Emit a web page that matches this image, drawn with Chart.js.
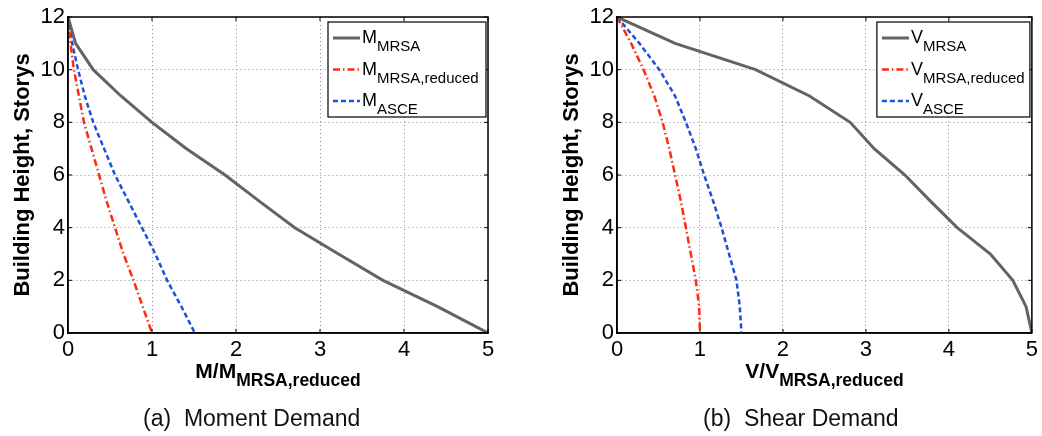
<!DOCTYPE html>
<html>
<head>
<meta charset="utf-8">
<script src="https://cdn.jsdelivr.net/npm/chart.js@4.4.0/dist/chart.umd.min.js"></script>
<style>
  body { margin: 0; background: #fff; }
  #wrap { position: relative; width: 1042px; height: 436px; }
  .box { position: absolute; top: 0; width: 521px; height: 436px; }
  .caption { position: absolute; top: 405px; font: 23px "Liberation Sans", Arial, sans-serif; color: #111; white-space: pre; }
</style>
</head>
<body>
<div id="wrap">
  <div class="box" style="left:0"><canvas id="moment"></canvas></div>
  <div class="box" style="left:521px"><canvas id="shear"></canvas></div>
  <div class="caption" style="left:143px">(a)  Moment Demand</div>
  <div class="caption" style="left:703px">(b)  Shear Demand</div>
</div>
<script>
// storys, top to bottom
var storys = [12, 11, 10, 9, 8, 7, 6, 5, 4, 3, 2, 1, 0];

// moment demand, normalised by M_MRSA,reduced
var mMrsa = [0, 0.09, 0.3, 0.63, 1.0, 1.41, 1.87, 2.28, 2.7, 3.22, 3.75, 4.4, 5.0];
var mMrsaReduced = [0, 0.03, 0.07, 0.13, 0.19, 0.28, 0.37, 0.46, 0.56, 0.66, 0.78, 0.89, 1.0];
var mAsce = [0, 0.05, 0.12, 0.2, 0.3, 0.43, 0.56, 0.72, 0.88, 1.04, 1.18, 1.35, 1.51];

// shear demand, normalised by V_MRSA,reduced
var vMrsa = [0, 0.7, 1.67, 2.32, 2.81, 3.1, 3.47, 3.78, 4.1, 4.5, 4.77, 4.93, 5.0];
var vMrsaReduced = [0, 0.17, 0.32, 0.45, 0.55, 0.63, 0.7, 0.77, 0.83, 0.89, 0.95, 0.99, 1.0];
var vAsce = [0, 0.27, 0.51, 0.7, 0.83, 0.95, 1.05, 1.16, 1.26, 1.35, 1.44, 1.48, 1.5];

var xTicks = [0, 1, 2, 3, 4, 5];
var yTicks = [0, 2, 4, 6, 8, 10, 12];

var FONT = '"Liberation Sans", Arial, Helvetica, sans-serif';
var GREY = '#636363', RED = '#ff2a10', BLUE = '#1e4fdc';

function pts(xs) {
    return xs.map(function (v, i) { return { x: v, y: storys[i] }; });
}

// text with a subscript, drawn on the canvas
function subText(ctx, x, y, main, sub, size, subSize, drop, bold, align) {
    var w = bold ? 'bold ' : '';
    ctx.font = w + size + 'px ' + FONT;
    var w1 = ctx.measureText(main).width;
    ctx.font = w + subSize + 'px ' + FONT;
    var w2 = ctx.measureText(sub).width;
    var start = align === 'center' ? x - (w1 + w2) / 2 : x;
    ctx.textAlign = 'left';
    ctx.textBaseline = 'alphabetic';
    ctx.fillStyle = '#000';
    ctx.font = w + size + 'px ' + FONT;
    ctx.fillText(main, start, y);
    ctx.font = w + subSize + 'px ' + FONT;
    ctx.fillText(sub, start + w1, y + drop);
}

var decor = {
    id: 'decor',
    afterDraw: function (chart) {
        var o = chart.options.plugins.decor;
        var ctx = chart.ctx, a = chart.chartArea;
        var sx = chart.scales.x, sy = chart.scales.y;
        ctx.save();
        // box round the axes, with inward tick marks
        ctx.strokeStyle = '#000';
        ctx.lineWidth = 1.5;
        ctx.strokeRect(a.left, a.top, a.right - a.left, a.bottom - a.top);
        ctx.lineWidth = 1;
        ctx.beginPath();
        xTicks.forEach(function (v) {
            var px = sx.getPixelForValue(v);
            ctx.moveTo(px, a.bottom); ctx.lineTo(px, a.bottom - 4);
            ctx.moveTo(px, a.top); ctx.lineTo(px, a.top + 4);
        });
        yTicks.forEach(function (v) {
            var py = sy.getPixelForValue(v);
            ctx.moveTo(a.left, py); ctx.lineTo(a.left + 4, py);
            ctx.moveTo(a.right, py); ctx.lineTo(a.right - 4, py);
        });
        ctx.stroke();

        // y axis title
        ctx.translate(a.left - 45, (a.top + a.bottom) / 2);
        ctx.rotate(-Math.PI / 2);
        ctx.font = 'bold 22px ' + FONT;
        ctx.fillStyle = '#000';
        ctx.textAlign = 'center';
        ctx.textBaseline = 'middle';
        ctx.fillText('Building Height, Storys', 0, 0);
        ctx.setTransform(1, 0, 0, 1, 0, 0);

        // x axis title
        subText(ctx, (a.left + a.right) / 2, a.bottom + 45, o.xMain, 'MRSA,reduced', 21, 17.5, 8, true, 'center');

        // legend
        var lw = o.legendW, lx = a.right - lw - 2, ly = a.top + 5, lh = 95;
        ctx.fillStyle = '#fff';
        ctx.fillRect(lx, ly, lw, lh);
        ctx.strokeStyle = '#000';
        ctx.lineWidth = 1.2;
        ctx.strokeRect(lx, ly, lw, lh);
        chart.data.datasets.forEach(function (ds, i) {
            var yy = ly + 16 + i * 31.5;
            ctx.beginPath();
            ctx.strokeStyle = ds.borderColor;
            ctx.lineWidth = ds.borderWidth;
            ctx.setLineDash(ds.borderDash || []);
            ctx.moveTo(lx + 5, yy);
            ctx.lineTo(lx + 32, yy);
            ctx.stroke();
            ctx.setLineDash([]);
            subText(ctx, lx + 34, yy + 5, o.sym, o.subs[i], 18, 15, 8, false, 'left');
        });
        ctx.restore();
    }
};

function makeChart(id, sym, series, padLeft, padRight, legendW) {
    var styles = [
        { color: GREY, width: 3, dash: [] },
        { color: RED, width: 2.5, dash: [7, 3, 1.5, 3] },
        { color: BLUE, width: 2.5, dash: [5, 3] }
    ];
    var subs = ['MRSA', 'MRSA,reduced', 'ASCE'];
    return new Chart(document.getElementById(id), {
        type: 'scatter',
        data: {
            datasets: series.map(function (s, i) {
                return {
                    label: sym + ' ' + subs[i],
                    data: pts(s),
                    showLine: true,
                    borderColor: styles[i].color,
                    borderWidth: styles[i].width,
                    borderDash: styles[i].dash,
                    pointRadius: 0,
                    tension: 0
                };
            })
        },
        options: {
            responsive: false,
            animation: false,
            layout: { padding: { left: padLeft, right: padRight, top: 17, bottom: 63 } },
            plugins: {
                legend: { display: false },
                tooltip: { enabled: false },
                decor: { xMain: sym + '/' + sym, sym: sym, subs: subs, legendW: legendW }
            },
            scales: {
                x: {
                    type: 'linear', min: 0, max: 5,
                    afterFit: function (s) { s.height = 40; },
                    afterBuildTicks: function (s) { s.ticks = xTicks.map(function (v) { return { value: v }; }); },
                    ticks: { color: '#000', font: { family: FONT, size: 22 }, padding: 4 },
                    grid: { color: '#8a8a8a', lineWidth: 1, drawTicks: false },
                    border: { color: '#000', width: 1.5, dash: [1, 3] }
                },
                y: {
                    type: 'linear', min: 0, max: 12,
                    afterFit: function (s) { s.width = 68; },
                    afterBuildTicks: function (s) { s.ticks = yTicks.map(function (v) { return { value: v }; }); },
                    ticks: { color: '#000', font: { family: FONT, size: 22 }, padding: 3 },
                    grid: { color: '#8a8a8a', lineWidth: 1, drawTicks: false },
                    border: { color: '#000', width: 1.5, dash: [1, 3] }
                }
            }
        },
        plugins: [decor]
    });
}

document.getElementById('moment').width = 521;
document.getElementById('moment').height = 436;
document.getElementById('shear').width = 521;
document.getElementById('shear').height = 436;

makeChart('moment', 'M', [mMrsa, mMrsaReduced, mAsce], 0, 33, 158);
makeChart('shear', 'V', [vMrsa, vMrsaReduced, vAsce], 28, 5, 153);
</script>
</body>
</html>
